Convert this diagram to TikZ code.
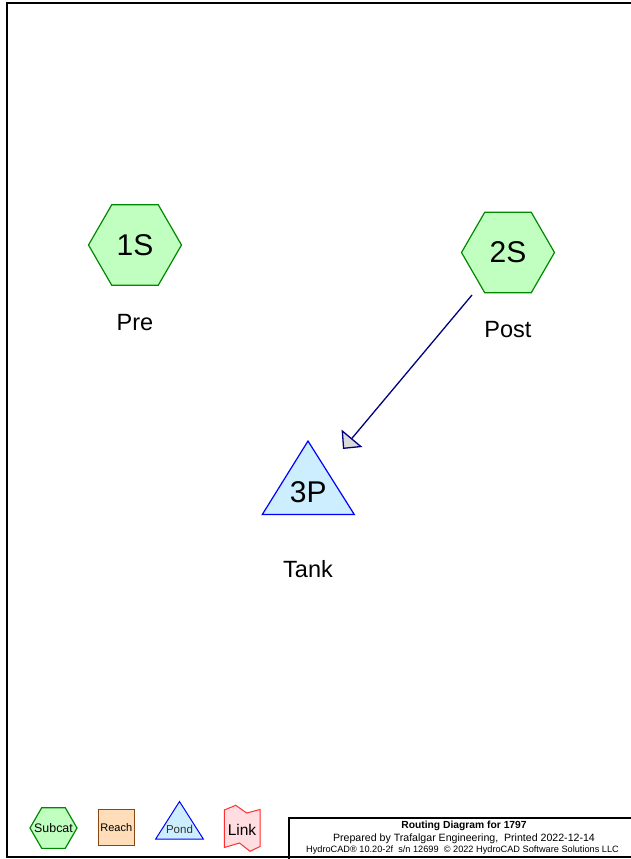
\documentclass[tikz,border=0pt]{standalone}
\usepackage{fontspec}
\setmainfont{Liberation Sans}
\usetikzlibrary{shapes.geometric,arrows.meta}
\definecolor{subfill}{HTML}{C0FFC0}
\definecolor{subdraw}{HTML}{008800}
\definecolor{pondfill}{HTML}{CCEEFF}
\definecolor{ponddraw}{HTML}{0000FF}
\definecolor{reachfill}{HTML}{FFDDB8}
\definecolor{reachdraw}{HTML}{8B4513}
\definecolor{linkfill}{HTML}{FFDDE0}
\definecolor{linkdraw}{HTML}{FF3030}
\definecolor{arrowcol}{HTML}{000080}
\definecolor{headfill}{HTML}{DADADA}
\tikzset{
  subcat/.style={regular polygon, regular polygon sides=6, minimum size=#1, inner sep=0pt,
    draw=subdraw, fill=subfill, line width=1.2pt},
  bigtxt/.style={font=\fontsize{30}{35}\selectfont},
  lbl/.style={font=\fontsize{23.5}{27}\selectfont},
  pondtri/.style={draw=ponddraw, fill=pondfill, line width=1.2pt, line join=miter},
  flow/.style={draw=arrowcol, line width=1.3pt,
    -{Triangle[length=14pt,width=27pt,fill=headfill]}},
  frame/.style={draw=black, line width=2pt},
  tblock/.style={draw=black, line width=1.5pt},
}
\begin{document}
\begin{tikzpicture}[x=1pt,y=-1pt]
\useasboundingbox (0,0) rectangle (631,859);
% outer frame
\draw[frame] (640,3) -- (7,3) -- (7,857) -- (640,857);
% subcatchments
\node[subcat=93pt, bigtxt] (s1) at (135,245) {1S};
\node[lbl] (s1l) at (135,323) {Pre};
\node[subcat=93pt, bigtxt] (s2) at (508,252.5) {2S};
\node[lbl] (s2l) at (508,330) {Post};
% pond
\path[pondtri] (308,441) -- (354.3,514.5) -- (262.3,514.5) -- cycle;
\node[bigtxt] (p3) at (308.3,492.5) {3P};
\node[lbl] (p3l) at (308,569) {Tank};
% flow
\coordinate (a1) at (472,295);
\coordinate (a2) at (343,449);
\draw[flow] (a1) -- (a2);
% legend
\node[subcat=47pt, font=\fontsize{12.4}{14}\selectfont] (lgS) at (53.5,828) {\makebox[0pt]{Subcat}};
\node[draw=reachdraw, fill=reachfill, line width=1pt, minimum width=36pt, minimum height=36.5pt,
  inner sep=0pt, font=\fontsize{11}{13}\selectfont] (lgR) at (116.3,827.3) {Reach};
\path[pondtri, line width=1pt] (179.5,801.5) -- (203.3,839) -- (155.7,839) -- cycle;
\node[font=\fontsize{11.5}{13}\selectfont, text=black!80] (lgP) at (179.5,829) {Pond};
\path[draw=linkdraw, fill=linkfill, line width=1pt, line join=miter]
  (224.3,810) -- (235.7,805.3) -- (246.7,813) -- (260,809.5) -- (260,846.5)
  -- (250,851.3) -- (239.5,843) -- (224.3,847.5) -- cycle;
\node[font=\fontsize{15.5}{18}\selectfont] (lgL) at (242,829.5) {Link};
% title block
\draw[tblock] (289,859) -- (289,818) -- (640,818);
\node[anchor=base, font=\bfseries\fontsize{10.3}{12}\selectfont] (t1) at (464,828.5) {Routing Diagram for 1797};
\node[anchor=base, font=\fontsize{10.6}{12}\selectfont] (t2) at (464,841) {Prepared by Trafalgar Engineering,\ \ Printed 2022-12-14};
\node[anchor=base, font=\fontsize{9.2}{11}\selectfont] (t3) at (462.5,852.5) {HydroCAD® 10.20-2f\ \ s/n 12699\ \ © 2022 HydroCAD Software Solutions LLC};
\end{tikzpicture}
\end{document}
